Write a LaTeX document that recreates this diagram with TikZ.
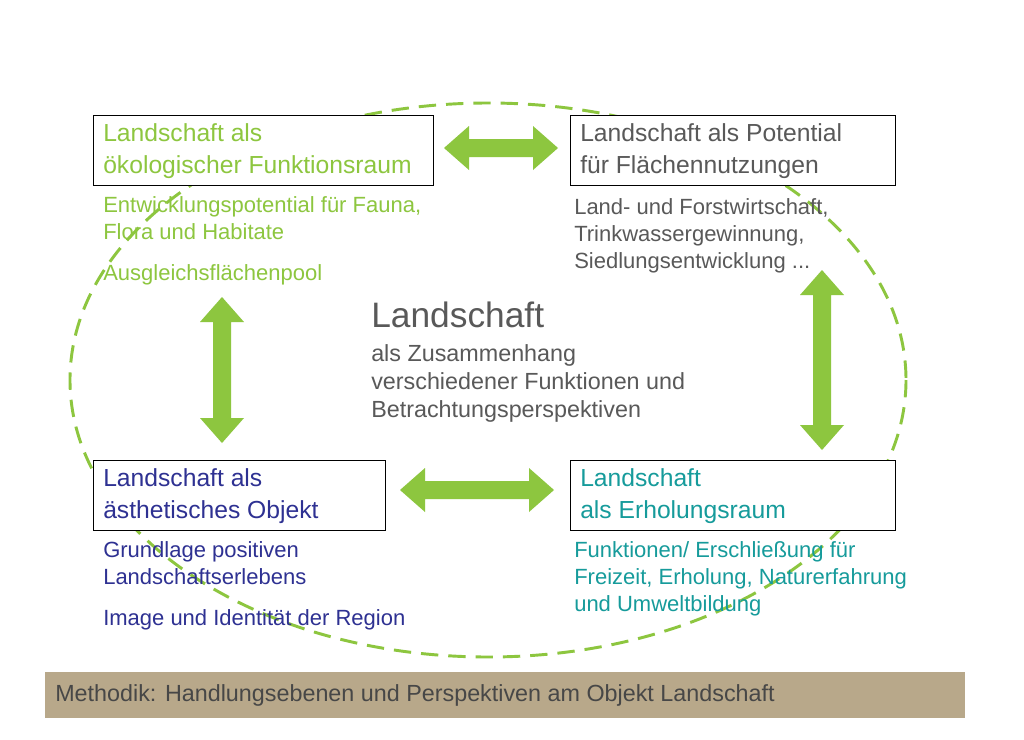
\documentclass[tikz,border=0pt]{standalone}
\usepackage{fontspec}
\setmainfont{Liberation Sans}
\definecolor{lgreen}{HTML}{8DC63F}
\definecolor{tgrey}{HTML}{595959}
\definecolor{tblue}{HTML}{2E3192}
\definecolor{tteal}{HTML}{169B9B}
\definecolor{tan}{HTML}{B8A88A}
\newcommand{\dblarrow}[4]{% x1,y1 to x2,y2 horizontal or vertical: #1 center x, #2 center y, #3 half length, #4 rotation
  \fill[lgreen,rotate around={#4:(#1,#2)}] ($(#1,#2)+(-#3,0)$) -- ++(25,-22) -- ++(0,13) -- ($(#1,#2)+(#3-25,-9)$) -- ++(0,-13) -- ($(#1,#2)+(#3,0)$) -- ++(-25,22) -- ++(0,-13) -- ($(#1,#2)+(-#3+25,9)$) -- ++(0,13) -- cycle;}
\usetikzlibrary{calc}
\begin{document}
\begin{tikzpicture}[x=0.75pt,y=-0.75pt,
  box/.style={draw=black,line width=0.8pt,fill=white,anchor=north west,minimum height=52.5pt,inner sep=0pt},
  ttl/.style={anchor=north west,align=left,inner sep=0pt,font=\fontsize{18.5}{24.5}\selectfont},
  sub/.style={anchor=north west,align=left,inner sep=0pt,font=\fontsize{16.5}{20.5}\selectfont}]
\useasboundingbox (0,0) rectangle (1024,739);
\fill[white] (0,0) rectangle (1024,739);
\draw[lgreen,line width=2.2pt,dash pattern=on 13pt off 7.5pt] (488,380) ellipse [x radius=418, y radius=277];
\node[box,minimum width=255pt] (b1) at (93,115) {};
\node[box,minimum width=244pt] (b2) at (570,115) {};
\node[box,minimum width=219pt] (b3) at (93,460) {};
\node[box,minimum width=244pt] (b4) at (570,460) {};
\node[ttl,text=lgreen] (t1) at (103,123) {Landschaft als\\ökologischer Funktionsraum};
\node[ttl,text=tgrey] (t2) at (580,123) {Landschaft als Potential\\für Flächennutzungen};
\node[ttl,text=tblue] (t3) at (103,468) {Landschaft als\\ästhetisches Objekt};
\node[ttl,text=tteal] (t4) at (580,468) {Landschaft\\als Erholungsraum};
\node[sub,text=lgreen] (s1) at (103,196) {Entwicklungspotential für Fauna,\\Flora und Habitate};
\node[sub,text=lgreen] (s1b) at (103,264) {Ausgleichsflächenpool};
\node[sub,text=tgrey] (s2) at (574,198) {Land- und Forstwirtschaft,\\Trinkwassergewinnung,\\Siedlungsentwicklung ...};
\node[sub,text=tblue] (s3) at (103,541) {Grundlage positiven\\Landschaftserlebens};
\node[sub,text=tblue] (s3b) at (103,609) {Image und Identität der Region};
\node[sub,text=tteal] (s4) at (574,541) {Funktionen/ Erschließung für\\Freizeit, Erholung, Naturerfahrung\\und Umweltbildung};
\node[anchor=north west,inner sep=0pt,text=tgrey,font=\fontsize{26.5}{30}\selectfont] (c) at (371,302) {Landschaft};
\node[anchor=north west,align=left,inner sep=0pt,text=tgrey,font=\fontsize{17.5}{21}\selectfont] (c2) at (371,344) {als Zusammenhang\\verschiedener Funktionen und\\Betrachtungsperspektiven};
\dblarrow{501}{148}{57}{0}
\dblarrow{222}{370}{73}{90}
\dblarrow{822}{360}{90}{90}
\dblarrow{477}{490}{77}{0}
\fill[tan] (45,672) rectangle (965,718);
\node[anchor=west,inner sep=0pt,text=tgrey!80!black,font=\fontsize{17.5}{20}\selectfont] (m) at (55,695) {Methodik: Handlungsebenen und Perspektiven am Objekt Landschaft};
\end{tikzpicture}
\end{document}
